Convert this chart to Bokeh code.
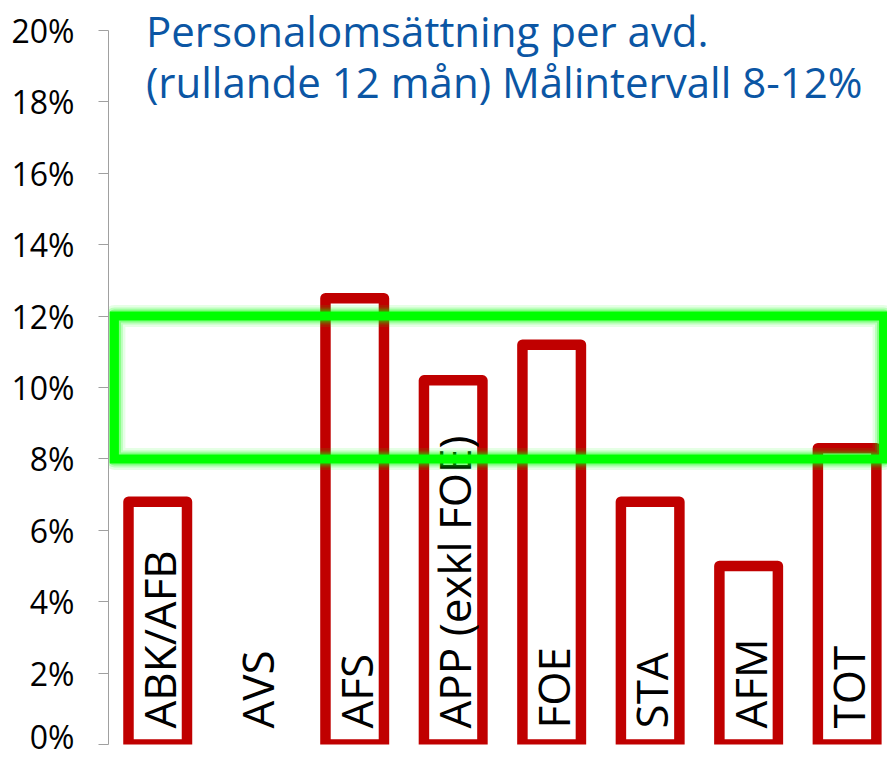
import math
from bokeh.plotting import figure
from bokeh.models import Range1d, FixedTicker, PrintfTickFormatter, ColumnDataSource
from bokeh.core.properties import value
from bokeh.embed import file_html
from bokeh.resources import INLINE

# ---- data ----
categories = ["ABK/AFB", "AVS", "AFS", "APP (exkl FOE)", "FOE", "STA", "AFM", "TOT"]
turnover = [6.8, None, 12.5, 10.2, 11.2, 6.8, 5.0, 8.3]
target_low = 8
target_high = 12
y_ticks = [0, 2, 4, 6, 8, 10, 12, 14, 16, 18, 20]
title_lines = ["Personalomsättning per avd.", "(rullande 12 mån) Målintervall 8-12%"]

FONT = "Open Sans"
RED = "#C00000"
GREEN = "#00FF00"
BLUE = "#0B56A4"

xs = [i + 0.5 for i in range(len(categories))]
bar_src = ColumnDataSource(dict(
    x=[x for x, v in zip(xs, turnover) if v is not None],
    top=[v for v in turnover if v is not None],
))
lab_src = ColumnDataSource(dict(x=xs, y=[0] * len(xs), text=categories))

p = figure(width=887, height=757, output_backend="svg", toolbar_location=None,
           x_range=Range1d(0, 7.91), y_range=Range1d(0, 20.84),
           min_border_left=108, min_border_right=0, min_border_top=0, min_border_bottom=13)
p.outline_line_color = None
p.xgrid.visible = False
p.ygrid.visible = False
p.xaxis.visible = False
p.background_fill_color = "white"
p.border_fill_color = "white"

ya = p.yaxis[0]
ya.ticker = FixedTicker(ticks=y_ticks)
ya.bounds = (0, 20)
ya.formatter = PrintfTickFormatter(format="%d%%")
ya.axis_line_color = "#A0A0A0"
ya.major_tick_line_color = "#A0A0A0"
ya.major_tick_out = 10
ya.major_tick_in = 0
ya.minor_tick_line_color = None
ya.major_label_text_font = FONT
ya.major_label_text_font_size = "32px"
ya.major_label_text_color = "#000000"
ya.major_label_standoff = 24

# bars
p.vbar(x="x", top="top", bottom=0, width=0.594, source=bar_src,
       fill_color="white", line_color=RED, line_width=10.5, line_join="round")

# category labels (vertical, inside bars)
p.text(x="x", y="y", text="text", source=lab_src, angle=math.pi / 2,
       text_align="left", text_baseline="middle", y_offset=-16, x_offset=1,
       text_font=value(FONT), text_font_size="44px", text_color="#000000")

# target interval box with glow
gl, gr = 0.06, 7.87
for lw, a in [(22, 0.10), (17, 0.18), (13, 0.30)]:
    p.quad(left=gl, right=gr, bottom=target_low, top=target_high, fill_color=None,
           line_color=GREEN, line_alpha=a, line_width=lw, line_join="round")
p.quad(left=gl, right=gr, bottom=target_low, top=target_high, fill_color=None,
       line_color=GREEN, line_width=9, line_join="miter")

# title (two lines, placed in the upper plot area)
title_x = 0.38
title_y = [20.0, 18.58]
p.text(x=[title_x] * 2, y=title_y, text=title_lines,
       text_align="left", text_baseline="alphabetic",
       text_font=value(FONT), text_font_size="42px", text_color=BLUE)

open("out.html", "w").write(file_html(p, INLINE))
